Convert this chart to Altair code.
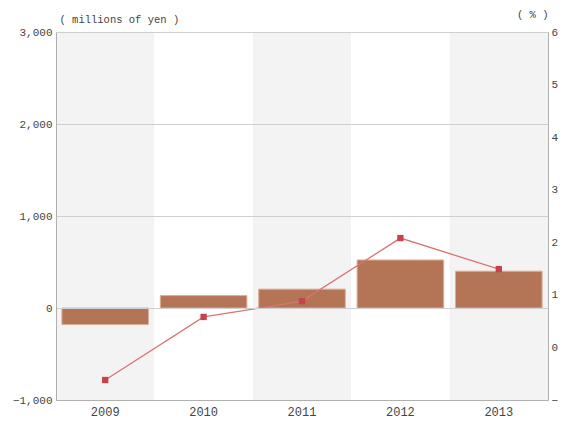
import altair as alt
import pandas as pd

years = ["2009", "2010", "2011", "2012", "2013"]
amounts = [-180, 135, 205, 522, 400]          # millions of yen (bars)
rates = [-0.62, 0.58, 0.88, 2.08, 1.49]        # % (line)
shade = [1, 0, 1, 0, 1]                         # alternating column background

df = pd.DataFrame({"year": years, "amount": amounts, "rate": rates, "shade": shade})

FONT = "Liberation Mono"
TXT = "#444444"
W, H = 492, 368

xenc = alt.X("year:O", sort=years,
             scale=alt.Scale(paddingInner=0, paddingOuter=0),
             axis=alt.Axis(title=None, labelAngle=0, ticks=False, domain=True,
                           domainColor="#b0b0b0", labelPadding=6, labelFontSize=12,
                           labelColor=TXT, labelFont=FONT))

bands = alt.Chart(df).mark_rect().encode(
    x=xenc,
    y=alt.value(0), y2=alt.value(H),
    color=alt.condition("datum.shade == 1", alt.value("#f3f3f3"), alt.value("#ffffff")),
)

yleft = alt.Y("amount:Q",
              scale=alt.Scale(domain=[-1000, 3000], nice=False),
              axis=alt.Axis(values=[-1000, 0, 1000, 2000, 3000], format=",d",
                            title="( millions of yen )", titleAngle=0, titleAlign="left",
                            titleBaseline="bottom", titleX=3, titleY=-8,
                            titleFontWeight="normal", titleFontSize=10.5, titleFont=FONT,
                            titleColor=TXT, ticks=False, labelPadding=4,
                            labelFontSize=11, labelFont=FONT, labelColor=TXT,
                            domainColor="#b0b0b0", grid=True, gridColor="#cfcfcf",
                            zindex=1))

bars = alt.Chart(df).mark_bar(width=alt.RelativeBandSize(0.88), color="#b37555",
                              stroke="#dcae98", strokeWidth=1).encode(
    x=alt.X("year:O", sort=years), y=yleft)

left = alt.layer(bands, bars)

yright = alt.Y("rate:Q",
               scale=alt.Scale(domain=[-1, 6], nice=False),
               axis=alt.Axis(orient="right", values=[-1, 0, 1, 2, 3, 4, 5, 6],
                             title="( % )", titleAngle=0, titleAlign="right",
                             titleBaseline="bottom", titleX=0, titleY=-13,
                             titleFontWeight="normal", titleFontSize=10.5, titleFont=FONT,
                             titleColor=TXT, ticks=False, labelPadding=3,
                             labelFontSize=11, labelFont=FONT, labelColor=TXT,
                             domainColor="#b0b0b0", grid=False))

line = alt.Chart(df).mark_line(color="#d97474", strokeWidth=1.3).encode(
    x=alt.X("year:O", sort=years), y=yright)
pts = alt.Chart(df).mark_point(shape="square", filled=True, size=40, color="#c9414b",
                               opacity=1).encode(
    x=alt.X("year:O", sort=years), y=yright)

right = alt.layer(line, pts)

chart = alt.layer(left, right).resolve_scale(y="independent").properties(
    width=W, height=H,
    autosize=alt.AutoSizeParams(type="none"),
    padding={"left": 48, "top": 24, "right": 10, "bottom": 19},
).configure_view(stroke="#b0b0b0", strokeWidth=1).configure(background="#ffffff")

chart.save("out.html", embed_options={"renderer": "svg", "actions": False})
